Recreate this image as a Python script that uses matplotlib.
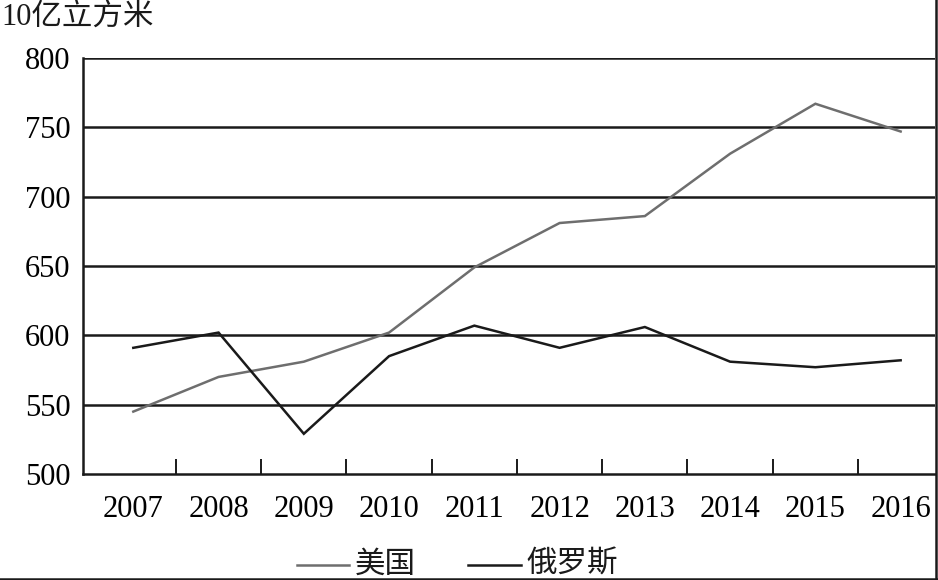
import matplotlib
matplotlib.use("Agg")
import matplotlib.pyplot as plt
from matplotlib.lines import Line2D
import numpy as np

years = ["2007", "2008", "2009", "2010", "2011", "2012", "2013", "2014", "2015", "2016"]
usa = [545, 570, 581, 602, 649, 681, 686, 731, 767, 747]
russia = [591, 602, 529, 585, 607, 591, 606, 581, 577, 582]
yticks = [500, 550, 600, 650, 700, 750, 800]
unit_label = "10亿立方米"
series_names = ["美国", "俄罗斯"]

FAM = ["Liberation Serif", "Noto Sans CJK SC", "DejaVu Sans"]
plt.rcParams["font.family"] = FAM

fig = plt.figure(figsize=(9.38, 5.8), dpi=100)
ax = fig.add_axes([83/938, 1-474/580, (935-83)/938, (474-58)/580])

x = np.arange(len(years))
ax.plot(x, usa, color="#6e6e6e", lw=1.8, solid_joinstyle="miter")
ax.plot(x, russia, color="#1a1a1a", lw=1.8, solid_joinstyle="miter")

ax.set_xlim(-0.59, len(years) - 0.597)
ax.set_ylim(500, 800)
ax.set_yticks(yticks)
ax.set_yticklabels([str(v) for v in yticks], fontsize=22)
ax.tick_params(axis="y", length=0, pad=9)

for v in yticks[1:]:
    ax.axhline(v, color="#1a1a1a", lw=1.8, zorder=0.5)

ax.set_xticks(np.arange(len(years) - 1) + 0.5)
ax.set_xticklabels([])
ax.tick_params(axis="x", which="major", direction="in", length=10.5, width=1.4, color="#1a1a1a")
ax.set_xticks(x, minor=True)
ax.set_xticklabels(years, minor=True, fontsize=22)
ax.tick_params(axis="x", which="minor", length=0, pad=15)

for s in ["top", "right"]:
    ax.spines[s].set_visible(False)
for s in ["left", "bottom"]:
    ax.spines[s].set_linewidth(1.8)
    ax.spines[s].set_color("#1a1a1a")

fig.text(1/938, 1 - 17/580, unit_label, fontsize=22, va="center", ha="left", color="#1a1a1a")

# legend
ly = 1 - 565/580
fig.add_artist(Line2D([297/938, 349/938], [ly, ly], color="#6e6e6e", lw=1.8))
fig.text(355/938, ly, series_names[0], fontsize=22, va="center", ha="left", color="#1a1a1a")
fig.add_artist(Line2D([468/938, 521/938], [ly, ly], color="#1a1a1a", lw=1.8))
fig.text(526/938, ly, series_names[1], fontsize=22, va="center", ha="left", color="#1a1a1a")

# frame on right and bottom
fig.add_artist(Line2D([936/938, 936/938], [0, 1], color="#1a1a1a", lw=1.8))
fig.add_artist(Line2D([0, 1], [1/580, 1/580], color="#1a1a1a", lw=1.8))

fig.savefig("out.png", dpi=100)
